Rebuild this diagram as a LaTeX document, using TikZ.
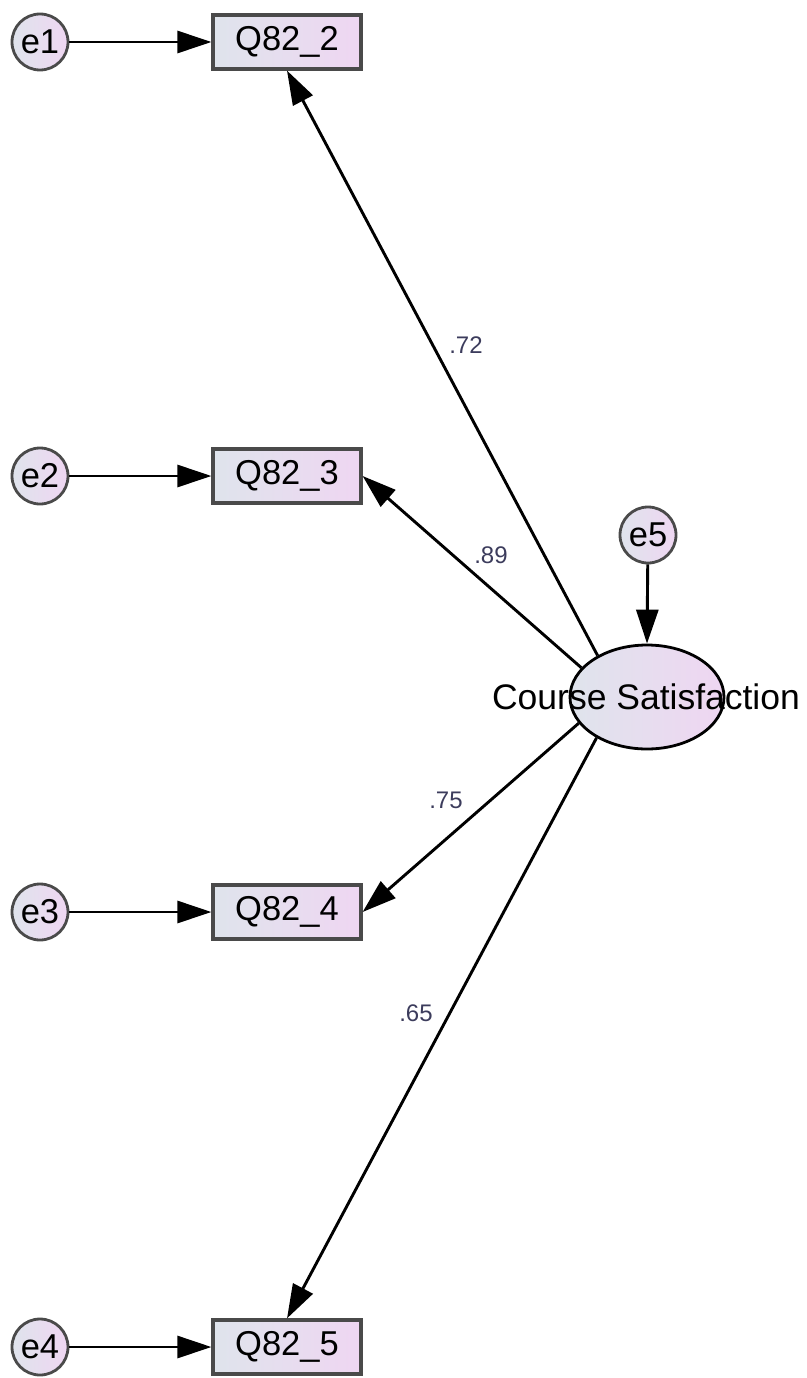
\documentclass[tikz,border=0pt]{standalone}
\usepackage{fontspec}
\setmainfont{Liberation Sans}
\usetikzlibrary{shapes.geometric,arrows.meta}
\definecolor{fillL}{HTML}{DFE4EC}
\definecolor{fillR}{HTML}{EFD6F2}
\definecolor{edge}{HTML}{4A4A4A}
\definecolor{coef}{HTML}{3C3C5C}
\tikzset{
  obs/.style={rectangle, draw=edge, line width=3.2pt, left color=fillL, right color=fillR,
    minimum width=148pt, minimum height=54pt, inner sep=0pt,
    font=\fontsize{34.5}{40}\selectfont},
  err/.style={circle, draw=edge, line width=2.8pt, left color=fillL, right color=fillR,
    minimum size=56pt, inner sep=0pt, font=\fontsize{34.5}{40}\selectfont},
  lat/.style={ellipse, draw=black, line width=2.8pt, left color=fillL, right color=fillR,
    minimum width=154pt, minimum height=104pt, inner sep=0pt},
  conn/.style={line width=2.9pt, -{Triangle[length=34pt,width=22pt]}},
  coeflab/.style={text=coef, font=\fontsize{24}{28}\selectfont}
}
\begin{document}
\begin{tikzpicture}[x=1pt,y=-1pt]
  \useasboundingbox (0,0) rectangle (806,1378);
  % observed indicators
  \node[obs] (q2) at (287,42) {Q82\_2};
  \node[obs] (q3) at (287,476) {Q82\_3};
  \node[obs] (q4) at (287,912) {Q82\_4};
  \node[obs] (q5) at (287,1347) {Q82\_5};
  % error terms
  \node[err] (e1) at (40,42) {e1};
  \node[err] (e2) at (40,476) {e2};
  \node[err] (e3) at (40,912) {e3};
  \node[err] (e4) at (40,1347) {e4};
  \node[err] (e5) at (648,535) {e5};
  % latent factor
  \node[lat] (cs) at (647,697) {};
  \node[font=\fontsize{35.5}{40}\selectfont] (cslab) at (646,697) {Course Satisfaction};
  % error paths
  \draw[conn] (e1) -- (q2.west);
  \draw[conn] (e2) -- (q3.west);
  \draw[conn] (e3) -- (q4.west);
  \draw[conn] (e4) -- (q5.west);
  \draw[conn] (e5) -- (cs.north);
  % loadings
  \draw[conn] (cs.140) -- (q2.south);
  \draw[conn] (cs.156) -- (q3.east);
  \draw[conn] (cs.201) -- (q4.east);
  \draw[conn] (cs.219) -- (q5.north);
  % standardized coefficients
  \node[coeflab] (l1) at (466,345) {.72};
  \node[coeflab] (l2) at (491,555) {.89};
  \node[coeflab] (l3) at (446,800) {.75};
  \node[coeflab] (l4) at (416,1013) {.65};
\end{tikzpicture}
\end{document}
